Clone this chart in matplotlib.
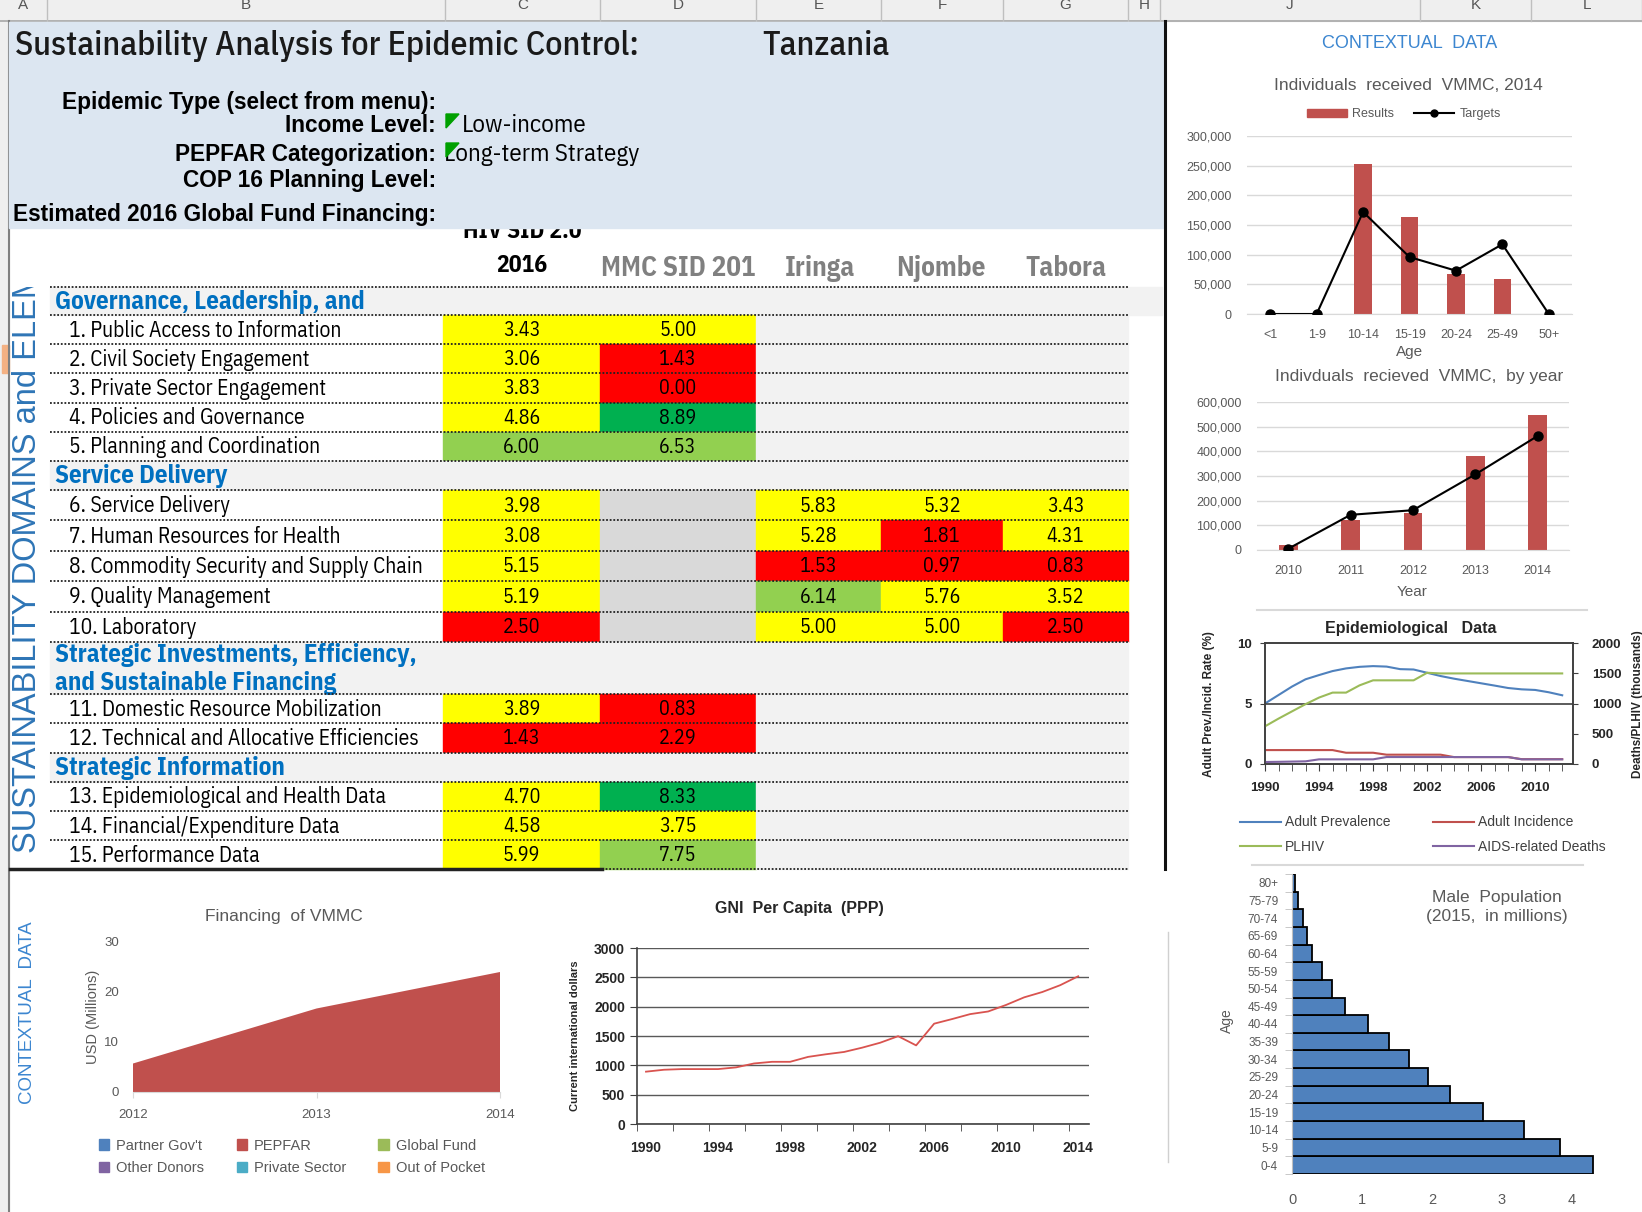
import matplotlib
matplotlib.use('Agg')
import matplotlib.pyplot as plt
from matplotlib.patches import Rectangle, Polygon, Patch
from matplotlib.lines import Line2D
from matplotlib.transforms import Bbox, TransformedBbox
from matplotlib.ticker import FuncFormatter, MultipleLocator, FixedLocator
from matplotlib import font_manager as fm
import numpy as np

# ---------------- DATA ----------------
country = "Tanzania"
header_labels = ["Epidemic Type (select from menu):", "Income Level:", "PEPFAR Categorization:",
                 "COP 16 Planning Level:", "Estimated 2016 Global Fund Financing:"]
header_values = ["", "Low-income", "Long-term Strategy", "", ""]

col_headers = ["2016", "MMC SID 2016", "Iringa", "Njombe", "Tabora"]
section_titles = ["Governance, Leadership, and", "Service Delivery",
                  "Strategic Investments, Efficiency,\nand Sustainable Financing", "Strategic Information"]
section_starts = [0, 5, 10, 12]
domain_labels = ["1. Public Access to Information", "2. Civil Society Engagement",
                 "3. Private Sector Engagement", "4. Policies and Governance",
                 "5. Planning and Coordination", "6. Service Delivery",
                 "7. Human Resources for Health", "8. Commodity Security and Supply Chain",
                 "9. Quality Management", "10. Laboratory", "11. Domestic Resource Mobilization",
                 "12. Technical and Allocative Efficiencies", "13. Epidemiological and Health Data",
                 "14. Financial/Expenditure Data", "15. Performance Data"]
hiv_sid = [3.43, 3.06, 3.83, 4.86, 6.00, 3.98, 3.08, 5.15, 5.19, 2.50, 3.89, 1.43, 4.70, 4.58, 5.99]
mmc_sid = [5.00, 1.43, 0.00, 8.89, 6.53, None, None, None, None, None, 0.83, 2.29, 8.33, 3.75, 7.75]
iringa = [None] * 5 + [5.83, 5.28, 1.53, 6.14, 5.00] + [None] * 5
njombe = [None] * 5 + [5.32, 1.81, 0.97, 5.76, 5.00] + [None] * 5
tabora = [None] * 5 + [3.43, 4.31, 0.83, 3.52, 2.50] + [None] * 5

age_groups = ["<1", "1-9", "10-14", "15-19", "20-24", "25-49", "50+"]
vmmc_results_age = [0, 0, 253000, 164000, 67000, 59000, 0]
vmmc_targets_age = [0, 0, 172000, 96000, 73000, 117500, 0]

vmmc_years = ["2010", "2011", "2012", "2013", "2014"]
vmmc_results_year = [21500, 119700, 149000, 382000, 547500]
vmmc_targets_year = [5000, 142600, 161400, 306700, 462800]

epi_years = list(range(1990, 2013))
adult_prevalence = [5.0, 5.7, 6.4, 7.0, 7.35, 7.68, 7.9, 8.03, 8.09, 8.05, 7.84, 7.81, 7.54, 7.27,
                    7.05, 6.86, 6.67, 6.48, 6.28, 6.17, 6.12, 5.93, 5.68]
adult_incidence = [1.15, 1.15, 1.15, 1.15, 1.15, 1.15, 0.93, 0.93, 0.93, 0.77, 0.77, 0.77, 0.77, 0.77,
                   0.57, 0.57, 0.57, 0.57, 0.57, 0.4, 0.4, 0.4, 0.4]
plhiv = [623, 750, 870, 989, 1098, 1180, 1180, 1300, 1383, 1383, 1383, 1383, 1508, 1497,
         1497, 1497, 1497, 1497, 1497, 1497, 1497, 1497, 1497]
aids_deaths = [33, 36, 40, 44, 77, 77, 77, 77, 77, 115, 115, 115, 115, 115,
               115, 115, 115, 115, 115, 77, 77, 77, 77]

fin_years = [2012, 2013, 2014]
fin_sources = ["Partner Gov't", "PEPFAR", "Global Fund", "Other Donors", "Private Sector", "Out of Pocket"]
fin_partner = [0, 0, 0]
fin_pepfar = [5.7, 16.7, 24.0]
fin_global = [0, 0, 0]
fin_other = [0, 0, 0]
fin_private = [0, 0, 0]
fin_oop = [0, 0, 0]

gni_years = list(range(1990, 2015))
gni_values = [892, 925, 936, 936, 936, 965, 1032, 1060, 1060, 1144, 1189, 1228, 1301, 1385,
              1497, 1340, 1710, 1789, 1873, 1918, 2030, 2159, 2249, 2366, 2518]

pop_ages = ["0-4", "5-9", "10-14", "15-19", "20-24", "25-29", "30-34", "35-39", "40-44",
            "45-49", "50-54", "55-59", "60-64", "65-69", "70-74", "75-79", "80+"]
male_pop = [4.30, 3.83, 3.32, 2.73, 2.26, 1.94, 1.67, 1.39, 1.08, 0.76, 0.57, 0.43, 0.29,
            0.21, 0.15, 0.08, 0.04]

# ---------------- STYLE ----------------
W, H = 1642, 1212
names = {f.name for f in fm.fontManager.ttflist}


def pick(cands):
    for c in cands:
        if c in names:
            return c
    return 'DejaVu Sans'


NARROW = pick(['IBM Plex Sans Condensed', 'Liberation Sans Narrow', 'Roboto Condensed'])
SANS = pick(['Liberation Sans', 'Arimo', 'DejaVu Sans'])
NF = [NARROW, 'DejaVu Sans']
plt.rcParams['font.family'] = [SANS, 'DejaVu Sans']

RED = '#C0504D'
BLUE = '#4F81BD'
GREEN = '#9BBB59'
PURPLE = '#8064A2'
TXTGRAY = '#595959'
HDRBLUE = '#0070C0'

fig = plt.figure(figsize=(W / 100, H / 100), dpi=100)
bg = fig.add_axes([0, 0, 1, 1])
bg.set_xlim(0, W)
bg.set_ylim(H, 0)
bg.axis('off')


def px_axes(x0, y0, x1, y1):
    return fig.add_axes([x0 / W, 1 - y1 / H, (x1 - x0) / W, (y1 - y0) / H])


def fx(x):
    return x / W


def fy(y):
    return 1 - y / H


# ---- spreadsheet chrome ----
bg.add_patch(Rectangle((0, 0), W, 21, color='#EFEFEF', zorder=0))
bg.plot([0, W], [21, 21], color='#A6A6A6', lw=1.2)
col_borders = [0, 47, 445, 600, 756, 881, 1003, 1128, 1160, 1420, 1531, W]
col_letters = ['A', 'B', 'C', 'D', 'E', 'F', 'G', 'H', 'J', 'K', 'L']
for i, L in enumerate(col_letters):
    bg.plot([col_borders[i + 1]] * 2, [0, 21], color='#BFBFBF', lw=1)
    bg.text((col_borders[i] + col_borders[i + 1]) / 2, 5, L, ha='center', va='center',
            fontsize=11, color='#555555')
bg.add_patch(Rectangle((0, 21), 9, H - 21, color='#EFEFEF', zorder=0))
bg.add_patch(Rectangle((2, 345), 7, 28, color='#F4B183', zorder=1))
bg.plot([9, 9], [21, H], color='#7F7F7F', lw=1.5)

# ---- header block ----
bg.text(522, 232, "HIV SID 2.0", ha='center', va='center', fontsize=17, fontweight='bold',
        family=NF, zorder=2)
bg.add_patch(Rectangle((9, 22), 1156, 206, color='#DCE6F1', zorder=3))
bg.text(15, 46, "Sustainability Analysis for Epidemic Control:", ha='left', va='center',
        fontsize=24.5, family=NF, fontweight='medium', color='#1a1a1a', zorder=4)
bg.text(762, 46, country, ha='left', va='center', fontsize=24.5, family=NF, fontweight='medium',
        color='#1a1a1a', zorder=4)
hdr_y = [103, 125, 154, 181, 214]
val_x = [0, 462, 444, 0, 0]
for lab, val, y, vx in zip(header_labels, header_values, hdr_y, val_x):
    bg.text(436, y, lab, ha='right', va='center', fontsize=16.3, fontweight='bold', zorder=4)
    if val:
        bg.text(vx, y + 1, val, ha='left', va='center', fontsize=18, family=NF, zorder=4)
        bg.add_patch(Polygon([[446, y - 11], [459, y - 11], [446, y + 3]], closed=True,
                             color='#00A000', zorder=5))

# ---- column headers ----
bg.text(522, 265, col_headers[0], ha='center', va='center', fontsize=17, fontweight='bold',
        family=NF)
t = bg.text(601, 268, col_headers[1], ha='left', va='center', fontsize=19.5, fontweight='bold',
            family=NF, color='#808080')
t.set_clip_box(TransformedBbox(Bbox([[600, 0], [756, H]]), bg.transData))
t.set_clip_on(True)
for cx, lab in zip([820, 941, 1066], col_headers[2:]):
    bg.text(cx, 268, lab, ha='center', va='center', fontsize=19.5, fontweight='bold',
            family=NF, color='#808080')

# ---- table ----
col_x = [443, 600, 756, 881, 1003, 1128]
values = [hiv_sid, mmc_sid, iringa, njombe, tabora]


def cell_color(v):
    if v < 3:
        return '#FF0000'
    if v < 6:
        return '#FFFF00'
    if v < 8:
        return '#92D050'
    return '#00B050'


entries = []
for s, (title, start) in enumerate(zip(section_titles, section_starts)):
    end = section_starts[s + 1] if s + 1 < len(section_starts) else len(domain_labels)
    entries.append(('hdr', title, s))
    for r in range(start, end):
        entries.append(('row', r, s))

heights = []
for kind, item, s in entries:
    if kind == 'hdr':
        heights.append(52 if '\n' in item else (28 if s == 0 else 29))
    else:
        heights.append(30.4 if 5 <= item < 10 else (29.2 if item < 5 else 29.3))

y = 287
bounds = [y]
for (kind, item, s), h in zip(entries, heights):
    y0, y1 = y, y + h
    ym = (y0 + y1) / 2
    if kind == 'hdr':
        bg.add_patch(Rectangle((50, y0), (1162 if s == 0 else 1128) - 50, h,
                               color='#F2F2F2', zorder=1))
        bg.text(55, ym + 1, item, ha='left', va='center', fontsize=18, fontweight='bold',
                color=HDRBLUE, family=NF, linespacing=1.25, zorder=3)
    else:
        bg.text(69, ym + 1, domain_labels[item], ha='left', va='center', fontsize=15.5,
                family=NF, zorder=3)
        for c in range(5):
            v = values[c][item]
            x0, x1 = col_x[c], col_x[c + 1]
            if v is None:
                fc = '#D9D9D9' if c == 1 else '#F2F2F2'
                bg.add_patch(Rectangle((x0, y0), x1 - x0, h, color=fc, zorder=1))
            else:
                bg.add_patch(Rectangle((x0, y0), x1 - x0, h, color=cell_color(v), zorder=1))
                bg.text((x0 + x1) / 2, ym + 1, f"{v:.2f}", ha='center', va='center',
                        fontsize=14.5, family=NF, zorder=3)
    y = y1
    bounds.append(y)

for b in bounds[:-1]:
    bg.plot([50, 1128], [b, b], color='#222222', lw=1.3, ls=(0, (1, 1)), zorder=4)
bg.plot([10, 602], [bounds[-1], bounds[-1]], color='#222222', lw=2.5, zorder=4)
bg.plot([602, 1128], [bounds[-1], bounds[-1]], color='#222222', lw=1.3, ls=(0, (1, 1)), zorder=4)

side = bg.text(28, 853, "SUSTAINABILITY DOMAINS and ELEMENTS", rotation=90, ha='center',
               va='bottom', fontsize=23.5, color='#2E75B6', zorder=4)
side.set_clip_box(TransformedBbox(Bbox([[0, 287], [50, 870]]), bg.transData))
side.set_clip_on(True)

bg.plot([1165, 1165], [21, 869], color='#111111', lw=2.2, zorder=5)
bg.plot([1168, 1168], [932, 1162], color='#D0D0D0', lw=1, zorder=5)
bg.plot([1257, 1587], [610, 610], color='#D9D9D9', lw=1.5, zorder=5)
bg.plot([1252, 1583], [865, 865], color='#D9D9D9', lw=1.5, zorder=5)

# ---- contextual labels ----
fig.text(fx(1410), fy(43), "CONTEXTUAL  DATA", ha='center', va='center', fontsize=13,
         color='#3C86D0')
fig.text(fx(28), fy(1013), "CONTEXTUAL  DATA", ha='center', va='center', fontsize=13.5,
         color='#3C86D0', rotation=90)

comma = FuncFormatter(lambda v, p: f"{int(v):,}")


def style_excel(ax):
    for s in ['top', 'right', 'left']:
        ax.spines[s].set_visible(False)
    ax.spines['bottom'].set_color('#D9D9D9')
    ax.grid(axis='y', color='#D9D9D9', lw=1)
    ax.set_axisbelow(True)
    ax.tick_params(length=0, labelsize=9, labelcolor=TXTGRAY)
    ax.tick_params(axis='y', pad=11)


# ---- chart 1 ----
ax1 = px_axes(1247, 136, 1572, 314)
xa = np.arange(len(age_groups))
ax1.bar(xa, vmmc_results_age, width=0.37, color=RED, zorder=2)
ax1.plot(xa, vmmc_targets_age, color='black', marker='o', markersize=6.5, lw=1.5, zorder=3)
ax1.set_xlim(-0.5, len(age_groups) - 0.5)
ax1.set_ylim(0, 300000)
ax1.set_yticks(np.arange(0, 300001, 50000))
ax1.yaxis.set_major_formatter(comma)
ax1.set_xticks(xa, age_groups)
style_excel(ax1)
ax1.tick_params(axis='x', pad=11)
fig.text(fx(1408), fy(85), "Individuals  received  VMMC, 2014", ha='center', va='center',
         fontsize=12.5, color=TXTGRAY)
fig.text(fx(1410), fy(352), "Age", ha='center', va='center', fontsize=11, color=TXTGRAY)
fig.legend([Patch(color=RED), Line2D([], [], color='black', marker='o', markersize=5, lw=1.5)],
           ["Results", "Targets"], loc='center', bbox_to_anchor=(fx(1404), fy(114)), ncol=2,
           frameon=False, fontsize=9, handlelength=3.2, handleheight=0.6, columnspacing=1.6,
           handletextpad=0.4, labelcolor=TXTGRAY)

# ---- chart 2 ----
ax2 = px_axes(1257, 402, 1569, 550)
xy = np.arange(len(vmmc_years))
ax2.bar(xy, vmmc_results_year, width=0.3, color=RED, zorder=2)
ax2.plot(xy, vmmc_targets_year, color='black', marker='o', markersize=6.5, lw=1.5, zorder=3)
ax2.set_xlim(-0.5, len(vmmc_years) - 0.5)
ax2.set_ylim(0, 600000)
ax2.set_yticks(np.arange(0, 600001, 100000))
ax2.yaxis.set_major_formatter(comma)
ax2.set_xticks(xy, vmmc_years)
style_excel(ax2)
ax2.tick_params(axis='x', pad=11)
fig.text(fx(1419), fy(377), "Indivduals  recieved  VMMC,  by year", ha='center', va='center',
         fontsize=12.5, color=TXTGRAY)
fig.text(fx(1412), fy(592), "Year", ha='center', va='center', fontsize=11, color=TXTGRAY)

# ---- chart 3 epi ----
ax3 = px_axes(1265, 643, 1573, 764)
ax3.plot(epi_years, adult_prevalence, color=BLUE, lw=1.5)
ax3.plot(epi_years, adult_incidence, color=RED, lw=1.5)
ax3.set_ylim(0, 10)
ax3.set_yticks([0, 5, 10])
ax3.set_xlim(1990, 2012.8)
ax3.axhline(5, color='#404040', lw=1.2)
ax3.xaxis.set_major_locator(FixedLocator([1990, 1994, 1998, 2002, 2006, 2010]))
ax3.xaxis.set_minor_locator(MultipleLocator(1))
ax3.tick_params(axis='both', which='both', direction='out', colors='#404040', labelsize=9.5,
                labelcolor='#262626')
ax3.tick_params(axis='x', which='both', length=5, pad=8)
ax3.tick_params(axis='y', pad=6)
for lab in ax3.get_xticklabels() + ax3.get_yticklabels():
    lab.set_fontweight('bold')
for s in ax3.spines.values():
    s.set_color('#404040')
    s.set_linewidth(1.2)
ax3b = ax3.twinx()
ax3b.plot(epi_years, plhiv, color=GREEN, lw=1.5)
ax3b.plot(epi_years, aids_deaths, color=PURPLE, lw=1.5)
ax3b.set_ylim(0, 2000)
ax3b.set_yticks(np.arange(0, 2001, 500))
ax3b.tick_params(axis='y', direction='out', colors='#404040', labelsize=9.5,
                 labelcolor='#262626', pad=10)
for lab in ax3b.get_yticklabels():
    lab.set_fontweight('bold')
for s in ax3b.spines.values():
    s.set_color('#404040')
    s.set_linewidth(1.2)
fig.text(fx(1411), fy(628), "Epidemiological   Data", ha='center', va='center', fontsize=11.5,
         fontweight='bold', color='#262626')
fig.text(fx(1209), fy(704), "Adult Prev./Incid. Rate (%)", ha='center', va='center',
         fontsize=8.5, fontweight='bold', rotation=90, color='#262626')
fig.text(fx(1638), fy(704), "Deaths/PLHIV (thousands)", ha='center', va='center',
         fontsize=8.5, fontweight='bold', rotation=90, color='#262626')
fig.legend([Line2D([], [], color=BLUE, lw=1.5), Line2D([], [], color=GREEN, lw=1.5),
            Line2D([], [], color=RED, lw=1.5), Line2D([], [], color=PURPLE, lw=1.5)],
           ["Adult Prevalence", "PLHIV", "Adult Incidence", "AIDS-related Deaths"],
           loc='upper left', bbox_to_anchor=(fx(1227), fy(803)), ncol=2, frameon=False,
           fontsize=10, handlelength=3.0, handletextpad=0.3, columnspacing=3.0,
           labelspacing=0.75, labelcolor='#404040')

# ---- chart 5 financing ----
ax5 = px_axes(133, 942, 500, 1092)
fin_series = [fin_partner, fin_pepfar, fin_global, fin_other, fin_private, fin_oop]
fin_colors = [BLUE, RED, GREEN, PURPLE, '#4BACC6', '#F79646']
ax5.stackplot(fin_years, *fin_series, colors=fin_colors, lw=0)
ax5.set_xlim(2012, 2014)
ax5.set_ylim(0, 30)
ax5.set_yticks([0, 10, 20, 30])
ax5.set_xticks(fin_years)
for s in ['top', 'right', 'left']:
    ax5.spines[s].set_visible(False)
ax5.spines['bottom'].set_color('#D9D9D9')
ax5.tick_params(axis='y', length=0, labelsize=9.5, labelcolor=TXTGRAY, pad=10)
ax5.tick_params(axis='x', length=4, color='#D9D9D9', labelsize=9.5, labelcolor=TXTGRAY, pad=8)
ax5.set_ylabel("USD (Millions)", fontsize=10.5, color=TXTGRAY, labelpad=3)
fig.text(fx(284), fy(917), "Financing  of VMMC", ha='center', va='center', fontsize=12.5,
         color=TXTGRAY)
order = [0, 3, 1, 4, 2, 5]
fig.legend([Patch(color=fin_colors[i]) for i in order], [fin_sources[i] for i in order],
           loc='center', bbox_to_anchor=(fx(292), fy(1157)), ncol=3, frameon=False,
           fontsize=10.5, handlelength=0.7, handleheight=0.7, handletextpad=0.5,
           columnspacing=2.2, labelspacing=0.6, labelcolor=TXTGRAY)

# ---- chart 6 GNI ----
ax6 = px_axes(637, 948, 1089, 1124)
ax6.plot(gni_years, gni_values, color='#D9534F', lw=1.3)
ax6.set_xlim(1989.5, 2014.6)
ax6.set_ylim(0, 3000)
ax6.set_yticks(np.arange(0, 3001, 500))
ax6.grid(axis='y', color='#595959', lw=1)
ax6.set_axisbelow(True)
ax6.set_xticks([1990, 1994, 1998, 2002, 2006, 2010, 2014])
ax6.xaxis.set_minor_locator(FixedLocator(np.arange(1989.5, 2015, 2)))
ax6.tick_params(axis='x', which='major', length=0, labelsize=10, labelcolor='#262626', pad=12)
ax6.tick_params(axis='x', which='minor', length=5, color='#404040')
ax6.tick_params(axis='y', length=5, color='#404040', labelsize=10, labelcolor='#262626')
for lab in ax6.get_xticklabels() + ax6.get_yticklabels():
    lab.set_fontweight('bold')
for s in ['top', 'right']:
    ax6.spines[s].set_visible(False)
for s in ['left', 'bottom']:
    ax6.spines[s].set_color('#404040')
    ax6.spines[s].set_linewidth(1.2)
fig.text(fx(799), fy(908), "GNI  Per Capita  (PPP)", ha='center', va='center', fontsize=11.5,
         fontweight='bold', color='#262626')
fig.text(fx(575), fy(1036), "Current international dollars", ha='center', va='center',
         fontsize=8, fontweight='bold', rotation=90, color='#262626')

# ---- chart 7 population ----
ax7 = px_axes(1292, 874, 1600, 1174)
yp = np.arange(len(pop_ages))
ax7.barh(yp, male_pop, height=1.0, color=BLUE, edgecolor='black', lw=1.3)
ax7.set_ylim(-0.5, len(pop_ages) - 0.5)
ax7.set_xlim(0, 4.4)
ax7.set_yticks(yp, pop_ages)
ax7.set_yticks(np.arange(-0.5, len(pop_ages), 1), minor=True)
ax7.set_xticks([0, 1, 2, 3, 4])
for s in ['top', 'right', 'bottom']:
    ax7.spines[s].set_visible(False)
ax7.spines['left'].set_color('#BFBFBF')
ax7.tick_params(axis='y', which='major', length=0, labelsize=8.5, labelcolor=TXTGRAY, pad=10)
ax7.tick_params(axis='y', which='minor', length=5, color='#BFBFBF')
ax7.tick_params(axis='x', length=0, labelsize=10.5, labelcolor=TXTGRAY, pad=14)
fig.text(fx(1497), fy(907), "Male  Population\n(2015,  in millions)", ha='center', va='center',
         fontsize=12.5, color=TXTGRAY, linespacing=1.35)
fig.text(fx(1227), fy(1021), "Age", ha='center', va='center', fontsize=10, color=TXTGRAY,
         rotation=90)

fig.savefig("out.png", dpi=100)
